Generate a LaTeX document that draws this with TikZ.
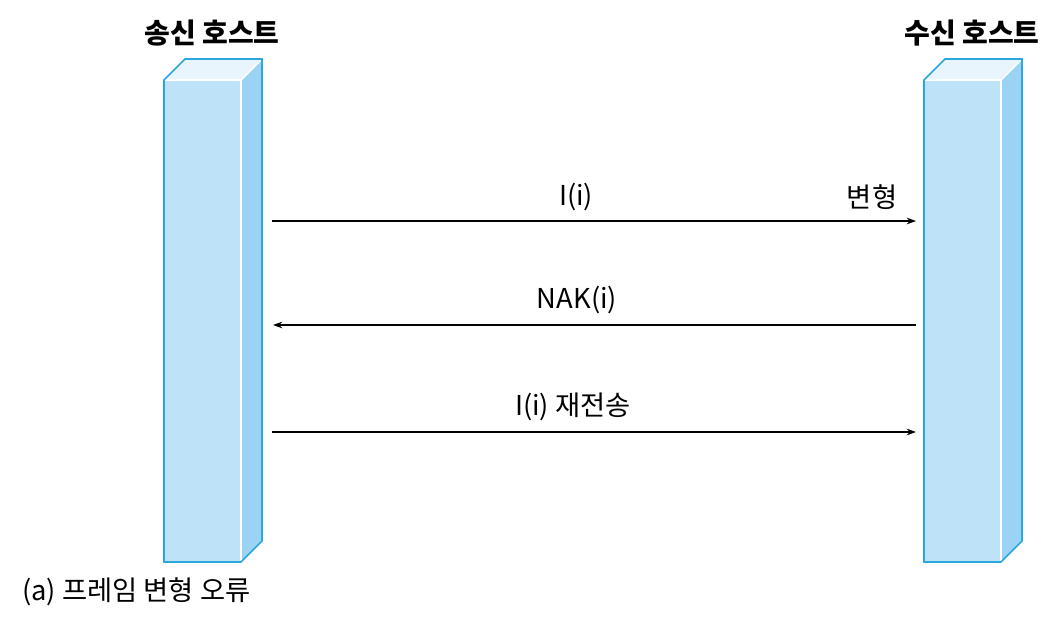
\documentclass[tikz,border=0pt]{standalone}
\usepackage{fontspec}
\setmainfont{Noto Sans CJK KR}
\usetikzlibrary{arrows.meta}
\definecolor{hfront}{HTML}{BEE3F8}
\definecolor{hside}{HTML}{9AD3F3}
\definecolor{htop}{HTML}{E8F5FD}
\definecolor{hline}{HTML}{2AA7DD}
\tikzset{
  lbl/.style={font=\fontsize{20.5}{24}\selectfont, inner sep=0pt},
  ttl/.style={font=\fontsize{21}{25}\selectfont\bfseries, inner sep=0pt},
  msg/.style={line width=0.9pt, -{Stealth[length=7pt,width=5pt]}},
  faceside/.style={fill=hside, draw=white, line width=0.8pt},
  facetop/.style={fill=htop, draw=white, line width=0.8pt},
  outline/.style={draw=hline, line width=1.3pt, line join=miter}
}
\newcommand{\hostbox}[2]{% #1 = left x, #2 = name
  \fill[hfront] (#1,80) rectangle (#1+77,562);
  \filldraw[faceside] (#1+77,80) -- (#1+98,59) -- (#1+98,541) -- (#1+77,562) -- cycle;
  \filldraw[facetop] (#1,80) -- (#1+21,59) -- (#1+98,59) -- (#1+77,80) -- cycle;
  \draw[white, line width=0.8pt] (#1,80) -- (#1+77,80) -- (#1+77,562);
  \draw[outline] (#1,562) -- (#1,80) -- (#1+21,59) -- (#1+98,59) -- (#1+98,541) -- (#1+77,562) -- cycle;
  \coordinate (#2) at (#1+49,310);
}
\begin{document}
\begin{tikzpicture}[x=0.75pt,y=-0.75pt]
\useasboundingbox (0,0) rectangle (1059,620);
\hostbox{164}{snd}
\hostbox{924}{rcv}
\node[ttl] (tsnd) at (212,33) {송신 호스트};
\node[ttl] (trcv) at (972,33) {수신 호스트};
\coordinate (s1) at (272,221);
\coordinate (r1) at (916,221);
\coordinate (s2) at (273,325);
\coordinate (r2) at (916,325);
\coordinate (s3) at (272,432);
\coordinate (r3) at (916,432);
\draw[msg] (s1) -- (r1);
\draw[msg] (r2) -- (s2);
\draw[msg] (s3) -- (r3);
\node[lbl] (l1) at (576,197) {I(i)};
\node[lbl] (l1b) at (872,197) {변형};
\node[lbl] (l2) at (577,300) {NAK(i)};
\node[lbl] (l3) at (573,407) {I(i) 재전송};
\node[lbl, anchor=west] (cap) at (22,592) {(a) 프레임 변형 오류};
\end{tikzpicture}
\end{document}
